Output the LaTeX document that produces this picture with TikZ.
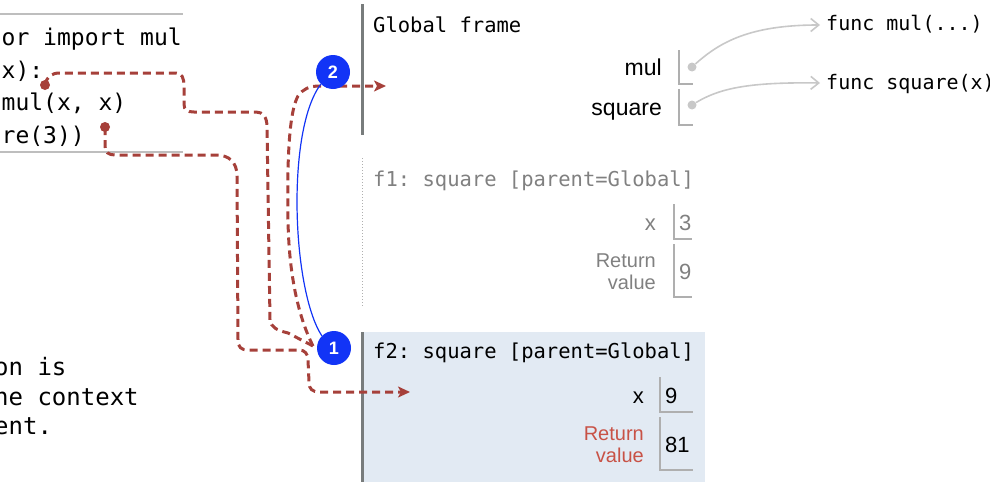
\documentclass[tikz,border=0pt]{standalone}
\usepackage{fontspec}
\setmainfont{Liberation Sans}
\setmonofont{DejaVu Sans Mono}
\usetikzlibrary{arrows.meta}
\definecolor{redpath}{RGB}{166,64,58}
\definecolor{retred}{RGB}{200,82,70}
\definecolor{stepblue}{RGB}{18,52,246}
\definecolor{framebg}{RGB}{226,234,243}
\definecolor{barcol}{RGB}{120,124,124}
\definecolor{boxcol}{RGB}{175,175,175}
\definecolor{fadetext}{RGB}{128,128,128}
\definecolor{ptrcol}{RGB}{200,200,200}
\definecolor{rulecol}{RGB}{190,190,190}
\begin{document}
\begin{tikzpicture}[x=1pt,y=-1pt,
  code/.style={font=\ttfamily\fontsize{23}{28}\selectfont, anchor=base west, inner sep=0pt},
  note/.style={font=\ttfamily\fontsize{24}{28}\selectfont, anchor=base west, inner sep=0pt},
  ftitle/.style={font=\ttfamily\fontsize{20.5}{24}\selectfont, anchor=base west, inner sep=0pt},
  funclab/.style={font=\ttfamily\fontsize{20}{24}\selectfont, anchor=base west, inner sep=0pt},
  bname/.style={font=\fontsize{23}{28}\selectfont, anchor=base east, inner sep=0pt},
  xname/.style={font=\fontsize{22}{26}\selectfont, anchor=base east, inner sep=0pt},
  retlab/.style={font=\fontsize{20}{22}\selectfont, align=right, anchor=base east, inner sep=0pt},
  valtext/.style={font=\fontsize{22}{26}\selectfont, anchor=base west, inner sep=0pt},
  stepcirc/.style={circle, fill=stepblue, minimum size=34pt, inner sep=0pt, text=white, font=\bfseries\fontsize{18}{20}\selectfont},
  reddot/.style={circle, fill=redpath, minimum size=10pt, inner sep=0pt},
  ptrdot/.style={circle, fill=ptrcol, minimum size=9pt, inner sep=0pt},
  redpathline/.style={draw=redpath, line width=3pt, dash pattern=on 8pt off 5pt},
  redarrow/.style={redpathline, -{Stealth[length=12pt,width=11pt,inset=3pt]}},
  ptrarrow/.style={draw=ptrcol, line width=1.6pt, -{Straight Barb[length=8pt,width=13pt]}},
  bindbox/.style={draw=boxcol, line width=1.3pt},
  framebar/.style={draw=barcol, line width=3pt},
  blueline/.style={draw=stepblue, line width=1.2pt}
]
\useasboundingbox (0,0) rectangle (990,482);

% f2 background
\fill[framebg] (362,332) rectangle (705,482);

% code block rules
\draw[rulecol, line width=1.5pt] (0,14) -- (183,14);
\draw[rulecol, line width=1.5pt] (0,152) -- (183,152);

% code text
\node[code] (l1) at (1.5,45) {or import mul};
\node[code] (l2) at (1.5,78) {x):};
\node[code] (l3) at (1.5,110.5) {mul(x, x)};
\node[code] (l4) at (1.5,143) {re(3))};

% bottom text
\node[note] (t1) at (-6,375) {on is};
\node[note] (t2) at (-6,405) {he context};
\node[note] (t3) at (-6,434) {ent.};

% frame bars
\draw[framebar] (362,4) -- (362,135);
\draw[boxcol, line width=1pt, dotted] (362,158) -- (362,307);
\draw[framebar] (362,332) -- (362,482);

% Global frame
\node[ftitle] (gtitle) at (373,32) {Global frame};
\node[bname] (nmul) at (662,75) {mul};
\node[bname] (nsq) at (662,115) {square};
\draw[bindbox] (679,50) -- (679,84) -- (693,84);
\draw[bindbox] (679,89) -- (679,125) -- (693,125);
\node[ptrdot] (p1) at (692,67) {};
\node[ptrdot] (p2) at (692,105) {};
\node[funclab] (fmul) at (826,30) {func mul(...)};
\node[funclab] (fsq) at (826,89) {func square(x)};
\coordinate (fmulin) at (820,25);
\coordinate (fsqin) at (820,83);
\draw[ptrarrow] (p1) .. controls (720,42) and (750,25) .. (fmulin);
\draw[ptrarrow] (p2) .. controls (720,88) and (750,82) .. (fsqin);

% f1 frame
\node[ftitle, text=fadetext] (f1title) at (373,186) {f1: square [parent=Global]};
\node[xname, text=fadetext] (f1x) at (656,230) {x};
\node[valtext, text=fadetext] (f1xv) at (679,230) {3};
\draw[bindbox] (674,204) -- (674,239) -- (692,239);
\node[retlab, text=fadetext] (f1r) at (656,289) {Return\\value};
\node[valtext, text=fadetext] (f1rv) at (679,279) {9};
\draw[bindbox] (674,244) -- (674,297) -- (692,297);

% f2 frame
\node[ftitle] (f2title) at (373,358) {f2: square [parent=Global]};
\node[xname] (f2x) at (644,403) {x};
\node[valtext] (f2xv) at (665,403) {9};
\draw[bindbox] (660,377) -- (660,412) -- (693,412);
\node[retlab, text=retred] (f2r) at (644,462) {Return\\value};
\node[valtext] (f2rv) at (665,452) {81};
\draw[bindbox] (660,417) -- (660,470) -- (693,470);

% red dots in code
\node[reddot] (d1) at (45,85) {};
\node[reddot] (d2) at (105,127) {};

% free ends of the dashed paths
\coordinate (meet) at (313,346);
\coordinate (gin) at (386,86);
\coordinate (f2in) at (410,392);

% dashed path from def line
\draw[redpathline] (d1.center) .. controls (47,76) and (52,73) .. (60,73) -- (176,73)
  .. controls (182,73) and (184,78) .. (184,86) -- (184,104)
  .. controls (184,110) and (187,112) .. (194,112) -- (256,112)
  .. controls (263,112) and (267,117) .. (267,127) -- (270,320)
  .. controls (271,327) and (276,330) .. (288,333) -- (meet);
\draw[redarrow] (meet) .. controls (300,320) and (289,280) .. (288,220)
  .. controls (287,160) and (289,112) .. (298,96)
  .. controls (303,89) and (309,86) .. (320,86) -- (gin);

% dashed path from call line
\draw[redarrow] (d2.center) -- (105,146) .. controls (105,152) and (108,155) .. (115,155) -- (216,155)
  .. controls (229,155) and (237,162) .. (237,176) -- (238,340)
  .. controls (238,347) and (241,350) .. (248,350) -- (299,350)
  .. controls (305,350) and (308,354) .. (308,360) -- (309,382)
  .. controls (309,389) and (312,392) .. (320,392) -- (f2in);

% step circles and link
\node[stepcirc] (c2) at (333,72) {2};
\node[stepcirc] (c1) at (334,348) {1};
\draw[blueline] (c1.135) .. controls (292,290) and (286,130) .. (c2.225);
\end{tikzpicture}
\end{document}
